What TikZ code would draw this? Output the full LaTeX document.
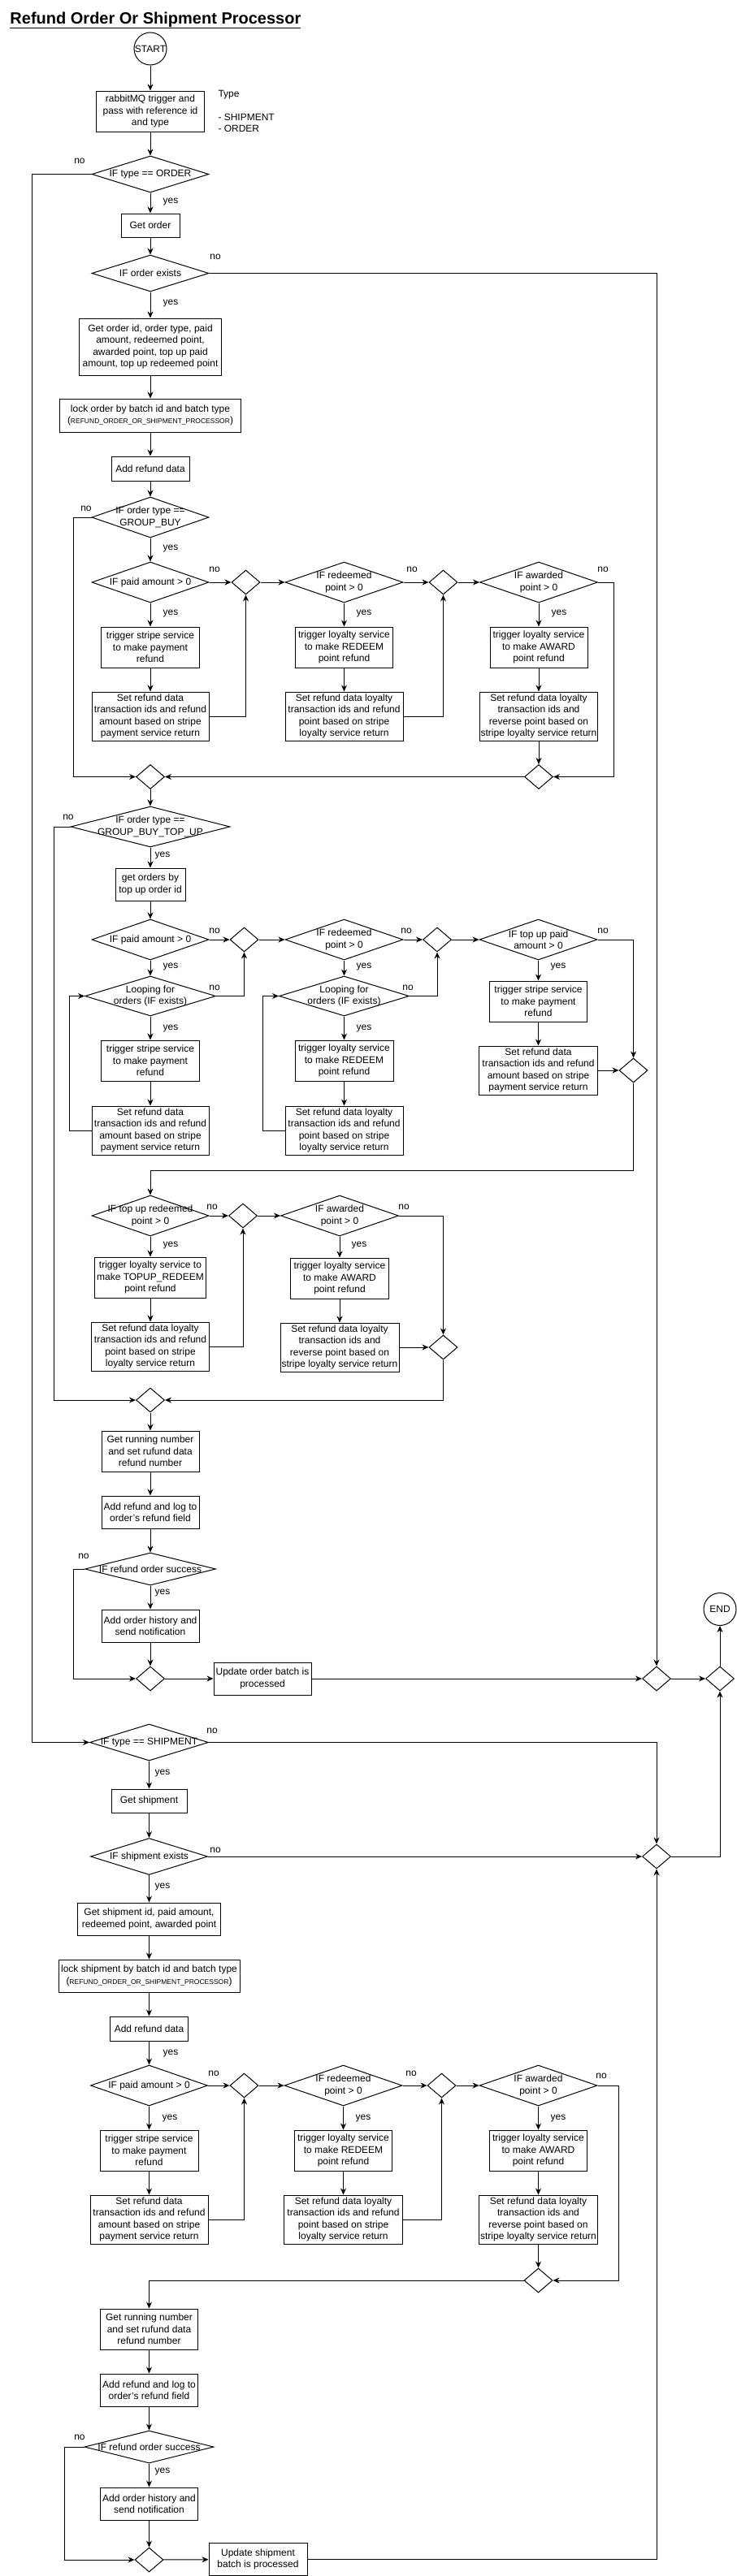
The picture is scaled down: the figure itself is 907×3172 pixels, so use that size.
\documentclass[tikz,border=0pt]{standalone}
\usepackage{fontspec}
\setmainfont{Liberation Sans}
\usetikzlibrary{arrows.meta,shapes.geometric}
\newcommand{\lockkey}{({\fontsize{8.5}{10}\selectfont REFUND\_ORDER\_OR\_SHIPMENT\_PROCESSOR})}
\tikzset{
  base/.style={font=\fontsize{12}{14.4}\selectfont},
  box/.style 2 args={base, draw, rectangle, align=center, inner sep=0pt, minimum width=#1pt, minimum height=#2pt},
  dec/.style 2 args={draw, diamond, inner sep=0pt, minimum width=#1pt, minimum height=#2pt},
  merge/.style={draw, diamond, inner sep=0pt, minimum width=35pt, minimum height=30pt},
  txt/.style={base, align=center, inner sep=0pt},
  term/.style={base, draw, circle, inner sep=0pt, minimum size=40pt},
  arr/.style={-{Stealth[length=8pt,width=7pt]}},
}
\begin{document}
\begin{tikzpicture}[x=1pt, y=-1pt, line width=1pt]
\useasboundingbox (0,0) rectangle (907,3172);
\node (title) [anchor=base west, inner sep=0pt, font=\fontsize{20}{24}\selectfont\bfseries] at (12,29) {\underline{Refund Order Or Shipment Processor}};
\node (start) [term] at (185,60) {START};
\node (rabbit) [box={133}{50}] at (185,137) {rabbitMQ trigger and\\pass with reference id\\and type};
\node (typenote) [base, anchor=north west, align=left, inner sep=0pt] at (268,111) {Type\\\strut\\- SHIPMENT\\- ORDER};
\node (isOrder) [dec={144}{45}, label={[txt]center:IF type == ORDER}] at (185,214.5) {};
\node (getOrder) [box={72}{29}] at (185,277.5) {Get order};
\node (orderExists) [dec={144}{45}, label={[txt]center:IF order exists}] at (185,336.5) {};
\node (orderInfo) [box={175}{70}] at (185,427) {Get order id, order type, paid\\amount, redeemed point,\\awarded point, top up paid\\amount, top up redeemed point};
\node (lockOrder) [box={223}{41}] at (185,511.5) {lock order by batch id and batch type\\\lockkey};
\node (addRefund) [box={96}{30}] at (185,577) {Add refund data};
\node (isGB) [dec={144}{50}, label={[txt]center:IF order type ==\\GROUP\_BUY}] at (185,637) {};
\node (gbPaid) [dec={144}{50}, label={[txt]center:IF paid amount > 0}] at (185,717) {};
\node (gbM1) [merge] at (302.5,717) {};
\node (gbRedeem) [dec={145}{50}, label={[txt]center:IF redeemed\\point > 0}] at (423.5,717) {};
\node (gbM2) [merge] at (545.5,717) {};
\node (gbAward) [dec={145}{50}, label={[txt]center:IF awarded\\point > 0}] at (663,717) {};
\node (gbStripe) [box={121}{50}] at (185,797) {trigger stripe service\\to make payment\\refund};
\node (gbLoyR) [box={120}{50}] at (423.5,797) {trigger loyalty service\\to make REDEEM\\point refund};
\node (gbLoyA) [box={120}{50}] at (663,797) {trigger loyalty service\\to make AWARD\\point refund};
\node (gbSetP) [box={144}{60}] at (185,882) {Set refund data\\transaction ids and refund\\amount based on stripe\\payment service return};
\node (gbSetR) [box={145}{60}] at (423.5,882) {Set refund data loyalty\\transaction ids and refund\\point based on stripe\\loyalty service return};
\node (gbSetA) [box={145}{60}] at (663,882) {Set refund data loyalty\\transaction ids and\\reverse point based on\\stripe loyalty service return};
\node (gbM3) [merge] at (663,956.5) {};
\node (gbM4) [merge] at (185,956.5) {};
\node (isGBT) [dec={196}{50}, label={[txt]center:IF order type ==\\GROUP\_BUY\_TOP\_UP}] at (185,1018) {};
\node (getTopUp) [box={86}{40}] at (185,1089) {get orders by\\top up order id};
\node (tuPaid) [dec={144}{50}, label={[txt]center:IF paid amount > 0}] at (185,1157) {};
\node (tuM1) [merge] at (300.5,1157) {};
\node (tuRedeem) [dec={145}{50}, label={[txt]center:IF redeemed\\point > 0}] at (423.5,1157) {};
\node (tuM2) [merge] at (538,1157) {};
\node (tuTopPaid) [dec={145}{50}, label={[txt]center:IF top up paid\\amount > 0}] at (662.5,1157) {};
\node (tuLoopP) [dec={161}{49}, label={[txt]center:Looping for\\orders (IF exists)}] at (185,1226.5) {};
\node (tuLoopR) [dec={160}{49}, label={[txt]center:Looping for\\orders (IF exists)}] at (423.5,1226.5) {};
\node (tuStripe) [box={121}{50}] at (185,1306) {trigger stripe service\\to make payment\\refund};
\node (tuLoyR) [box={121}{50}] at (423.5,1306) {trigger loyalty service\\to make REDEEM\\point refund};
\node (tuStripeT) [box={120}{50}] at (662.5,1233) {trigger stripe service\\to make payment\\refund};
\node (tuSetT) [box={146}{60}] at (662.5,1318) {Set refund data\\transaction ids and refund\\amount based on stripe\\payment service return};
\node (tuM3) [merge] at (779.5,1318) {};
\node (tuSetP) [box={144}{60}] at (185,1392) {Set refund data\\transaction ids and refund\\amount based on stripe\\payment service return};
\node (tuSetR) [box={145}{60}] at (423.5,1392) {Set refund data loyalty\\transaction ids and refund\\point based on stripe\\loyalty service return};
\node (tuRedeemT) [dec={144}{50}, label={[txt]center:IF top up redeemed\\point > 0}] at (185,1497) {};
\node (tuM4) [merge] at (299,1497) {};
\node (tuAward) [dec={145}{50}, label={[txt]center:IF awarded\\point > 0}] at (418,1497) {};
\node (tuLoyT) [box={137}{50}] at (185,1573) {trigger loyalty service to\\make TOPUP\_REDEEM\\point refund};
\node (tuLoyA) [box={121}{50}] at (418,1574) {trigger loyalty service\\to make AWARD\\point refund};
\node (tuSetRT) [box={145}{60}] at (185,1658) {Set refund data loyalty\\transaction ids and refund\\point based on stripe\\loyalty service return};
\node (tuSetA) [box={146}{60}] at (418,1659) {Set refund data loyalty\\transaction ids and\\reverse point based on\\stripe loyalty service return};
\node (tuM5) [merge] at (545.5,1659) {};
\node (tuM6) [merge] at (185,1724) {};
\node (ordRun) [box={120}{50}] at (185,1787) {Get running number\\and set rufund data\\refund number};
\node (ordLog) [box={120}{40}] at (185,1862) {Add refund and log to\\order's refund field};
\node (ordOk) [dec={161}{40}, label={[txt]center:IF refund order success}] at (185,1932) {};
\node (ordHist) [box={120}{40}] at (185,2002) {Add order history and\\send notification};
\node (ordM) [merge] at (185,2067) {};
\node (ordUpd) [box={120}{40}] at (323,2067) {Update order batch is\\processed};
\node (mOrd) [merge] at (808,2067) {};
\node (mEnd) [merge] at (886,2067) {};
\node (end) [term] at (886,1981.5) {END};
\node (isShip) [dec={146}{45}, label={[txt]center:IF type == SHIPMENT}] at (183.5,2145.5) {};
\node (getShip) [box={93}{29}] at (183.5,2217.5) {Get shipment};
\node (shipExists) [dec={144}{45}, label={[txt]center:IF shipment exists}] at (183.5,2286) {};
\node (mShip) [merge] at (808,2286) {};
\node (shipInfo) [box={176}{40}] at (183.5,2363) {Get shipment id, paid amount,\\redeemed point, awarded point};
\node (lockShip) [box={223}{40}] at (183.5,2433) {lock shipment by batch id and batch type\\\lockkey};
\node (addRefund2) [box={96}{30}] at (183.5,2498) {Add refund data};
\node (shPaid) [dec={144}{50}, label={[txt]center:IF paid amount > 0}] at (183.5,2568) {};
\node (shM1) [merge] at (300.5,2568) {};
\node (shRedeem) [dec={145}{50}, label={[txt]center:IF redeemed\\point > 0}] at (422.5,2568) {};
\node (shM2) [merge] at (543.5,2568) {};
\node (shAward) [dec={145}{50}, label={[txt]center:IF awarded\\point > 0}] at (662.5,2568) {};
\node (shStripe) [box={121}{50}] at (183.5,2648) {trigger stripe service\\to make payment\\refund};
\node (shLoyR) [box={120}{50}] at (422.5,2648) {trigger loyalty service\\to make REDEEM\\point refund};
\node (shLoyA) [box={120}{50}] at (662.5,2648) {trigger loyalty service\\to make AWARD\\point refund};
\node (shSetP) [box={145}{60}] at (183.5,2733) {Set refund data\\transaction ids and refund\\amount based on stripe\\payment service return};
\node (shSetR) [box={146}{60}] at (422.5,2733) {Set refund data loyalty\\transaction ids and refund\\point based on stripe\\loyalty service return};
\node (shSetA) [box={146}{60}] at (662.5,2733) {Set refund data loyalty\\transaction ids and\\reverse point based on\\stripe loyalty service return};
\node (shM3) [merge] at (662.5,2808) {};
\node (shRun) [box={120}{50}] at (183.5,2868) {Get running number\\and set rufund data\\refund number};
\node (shLog) [box={120}{40}] at (183.5,2943) {Add refund and log to\\order's refund field};
\node (shOk) [dec={159}{40}, label={[txt]center:IF refund order success}] at (183.5,3013) {};
\node (shHist) [box={120}{40}] at (183.5,3083) {Add order history and\\send notification};
\node (shM) [merge] at (183.5,3152) {};
\node (shUpd) [box={121}{40}] at (317.5,3151.5) {Update shipment\\batch is processed};
\node (no1) [txt] at (98,198) {no};
\node (yes1) [txt] at (210,249) {yes};
\node (no2) [txt] at (265,316) {no};
\node (yes2) [txt] at (210,374) {yes};
\node (no3) [txt] at (106,626) {no};
\node (yes3) [txt] at (210,676) {yes};
\node (no4) [txt] at (264,701) {no};
\node (no5) [txt] at (507,701) {no};
\node (no6) [txt] at (742,701) {no};
\node (yes4) [txt] at (210,756) {yes};
\node (yes5) [txt] at (448,756) {yes};
\node (yes6) [txt] at (688,756) {yes};
\node (no7) [txt] at (84,1006) {no};
\node (yes7) [txt] at (200,1054) {yes};
\node (no8) [txt] at (264,1146) {no};
\node (no9) [txt] at (500,1146) {no};
\node (no10) [txt] at (742,1146) {no};
\node (yes8) [txt] at (210,1191) {yes};
\node (yes9) [txt] at (448,1191) {yes};
\node (yes10) [txt] at (687,1191) {yes};
\node (no11) [txt] at (264,1216) {no};
\node (no12) [txt] at (502,1216) {no};
\node (yes11) [txt] at (210,1266) {yes};
\node (yes12) [txt] at (448,1266) {yes};
\node (no13) [txt] at (261,1486) {no};
\node (no14) [txt] at (497,1486) {no};
\node (yes13) [txt] at (210,1533) {yes};
\node (yes14) [txt] at (442,1533) {yes};
\node (no15) [txt] at (103,1916) {no};
\node (yes15) [txt] at (200,1961) {yes};
\node (no16) [txt] at (261,2131) {no};
\node (yes16) [txt] at (200,2183) {yes};
\node (no17) [txt] at (265,2278) {no};
\node (yes17) [txt] at (200,2323) {yes};
\node (yes18) [txt] at (210,2528) {yes};
\node (no18) [txt] at (263,2553) {no};
\node (no19) [txt] at (506,2553) {no};
\node (no20) [txt] at (740,2556) {no};
\node (yes19) [txt] at (209,2608) {yes};
\node (yes20) [txt] at (447,2608) {yes};
\node (yes21) [txt] at (687,2608) {yes};
\node (no21) [txt] at (98,3001) {no};
\node (yes22) [txt] at (200,3043) {yes};
\draw[arr] (start) -- (rabbit);
\draw[arr] (rabbit) -- (isOrder);
\draw[arr] (isOrder) -- (getOrder);
\draw[arr] (isOrder.west) -- ++(-73,0) |- (isShip.west);
\draw[arr] (getOrder) -- (orderExists);
\draw[arr] (orderExists) -- (orderInfo);
\draw[arr] (orderExists.east) -| (mOrd.north);
\draw[arr] (orderInfo) -- (lockOrder);
\draw[arr] (lockOrder) -- (addRefund);
\draw[arr] (addRefund) -- (isGB);
\draw[arr] (isGB) -- (gbPaid);
\draw[arr] (isGB.west) -- ++(-22,0) |- (gbM4.west);
\draw[arr] (gbPaid) -- (gbM1);
\draw[arr] (gbM1) -- (gbRedeem);
\draw[arr] (gbRedeem) -- (gbM2);
\draw[arr] (gbM2) -- (gbAward);
\draw[arr] (gbPaid) -- (gbStripe);
\draw[arr] (gbStripe) -- (gbSetP);
\draw[arr] (gbSetP.east) -| (gbM1.south);
\draw[arr] (gbRedeem) -- (gbLoyR);
\draw[arr] (gbLoyR) -- (gbSetR);
\draw[arr] (gbSetR.east) -| (gbM2.south);
\draw[arr] (gbAward) -- (gbLoyA);
\draw[arr] (gbLoyA) -- (gbSetA);
\draw[arr] (gbSetA) -- (gbM3);
\draw[arr] (gbAward.east) -- ++(19.5,0) |- (gbM3.east);
\draw[arr] (gbM3) -- (gbM4);
\draw[arr] (gbM4) -- (isGBT);
\draw[arr] (isGBT) -- (getTopUp);
\draw[arr] (isGBT.west) -- ++(-20.5,0) |- (tuM6.west);
\draw[arr] (getTopUp) -- (tuPaid);
\draw[arr] (tuPaid) -- (tuM1);
\draw[arr] (tuM1) -- (tuRedeem);
\draw[arr] (tuRedeem) -- (tuM2);
\draw[arr] (tuM2) -- (tuTopPaid);
\draw[arr] (tuPaid) -- (tuLoopP);
\draw[arr] (tuLoopP.east) -| (tuM1.south);
\draw[arr] (tuLoopP) -- (tuStripe);
\draw[arr] (tuStripe) -- (tuSetP);
\draw[arr] (tuSetP.west) -- ++(-27,0) |- (tuLoopP.west);
\draw[arr] (tuRedeem) -- (tuLoopR);
\draw[arr] (tuLoopR.east) -| (tuM2.south);
\draw[arr] (tuLoopR) -- (tuLoyR);
\draw[arr] (tuLoyR) -- (tuSetR);
\draw[arr] (tuSetR.west) -- ++(-27,0) |- (tuLoopR.west);
\draw[arr] (tuTopPaid) -- (tuStripeT);
\draw[arr] (tuStripeT) -- (tuSetT);
\draw[arr] (tuSetT) -- (tuM3);
\draw[arr] (tuTopPaid.east) -| (tuM3.north);
\draw[arr] (tuM3.south) -- ++(0,108) -| (tuRedeemT.north);
\draw[arr] (tuRedeemT) -- (tuM4);
\draw[arr] (tuM4) -- (tuAward);
\draw[arr] (tuRedeemT) -- (tuLoyT);
\draw[arr] (tuLoyT) -- (tuSetRT);
\draw[arr] (tuSetRT.east) -| (tuM4.south);
\draw[arr] (tuAward) -- (tuLoyA);
\draw[arr] (tuLoyA) -- (tuSetA);
\draw[arr] (tuSetA) -- (tuM5);
\draw[arr] (tuAward.east) -| (tuM5.north);
\draw[arr] (tuM5.south) |- (tuM6.east);
\draw[arr] (tuM6) -- (ordRun);
\draw[arr] (ordRun) -- (ordLog);
\draw[arr] (ordLog) -- (ordOk);
\draw[arr] (ordOk) -- (ordHist);
\draw[arr] (ordOk.west) -- ++(-13.5,0) |- (ordM.west);
\draw[arr] (ordHist) -- (ordM);
\draw[arr] (ordM) -- (ordUpd);
\draw[arr] (ordUpd) -- (mOrd);
\draw[arr] (mOrd) -- (mEnd);
\draw[arr] (mEnd) -- (end);
\draw[arr] (isShip) -- (getShip);
\draw[arr] (isShip.east) -| (mShip.north);
\draw[arr] (getShip) -- (shipExists);
\draw[arr] (shipExists) -- (mShip);
\draw[arr] (mShip.east) -| (mEnd.south);
\draw[arr] (shipExists) -- (shipInfo);
\draw[arr] (shipInfo) -- (lockShip);
\draw[arr] (lockShip) -- (addRefund2);
\draw[arr] (addRefund2) -- (shPaid);
\draw[arr] (shPaid) -- (shM1);
\draw[arr] (shM1) -- (shRedeem);
\draw[arr] (shRedeem) -- (shM2);
\draw[arr] (shM2) -- (shAward);
\draw[arr] (shPaid) -- (shStripe);
\draw[arr] (shStripe) -- (shSetP);
\draw[arr] (shSetP.east) -| (shM1.south);
\draw[arr] (shRedeem) -- (shLoyR);
\draw[arr] (shLoyR) -- (shSetR);
\draw[arr] (shSetR.east) -| (shM2.south);
\draw[arr] (shAward) -- (shLoyA);
\draw[arr] (shLoyA) -- (shSetA);
\draw[arr] (shSetA) -- (shM3);
\draw[arr] (shAward.east) -- ++(26,0) |- (shM3.east);
\draw[arr] (shM3.west) -| (shRun.north);
\draw[arr] (shRun) -- (shLog);
\draw[arr] (shLog) -- (shOk);
\draw[arr] (shOk) -- (shHist);
\draw[arr] (shOk.west) -- ++(-24,0) |- (shM.west);
\draw[arr] (shHist) -- (shM);
\draw[arr] (shM) -- (shUpd);
\draw[arr] (shUpd.east) -| (mShip.south);
\end{tikzpicture}
\end{document}
